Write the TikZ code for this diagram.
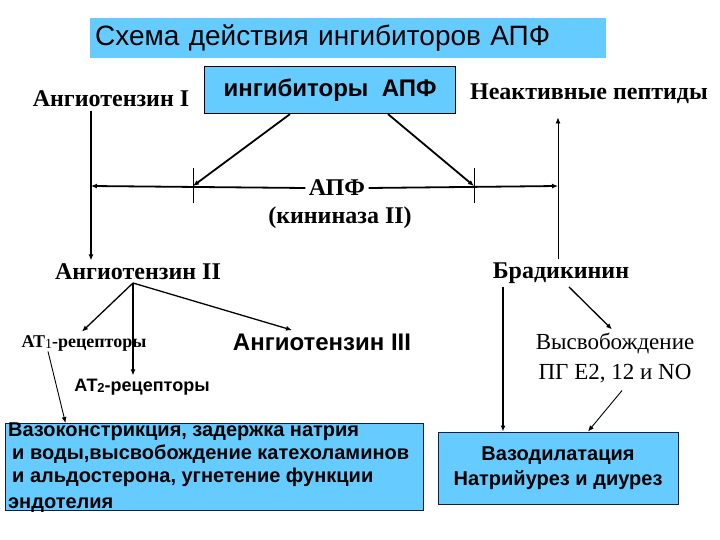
\documentclass[tikz,border=0pt]{standalone}
\usepackage{fontspec}
\setmainfont{Liberation Serif}
\setsansfont{Liberation Sans}
\usetikzlibrary{arrows.meta}

\definecolor{apfblue}{RGB}{102,204,255}
\definecolor{boxline}{RGB}{20,30,60}

\begin{document}
\begin{tikzpicture}[x=1pt,y=-1pt,
    >={Latex[length=6pt,width=5pt]},
    serifbold/.style={font=\bfseries\fontsize{24}{27}\selectfont},
    heavy/.style={line width=1.8pt},
    medium/.style={line width=1.3pt},
    light/.style={line width=0.9pt},
    bluebox/.style={draw=boxline, fill=apfblue, line width=1pt}]
  \useasboundingbox (0,0) rectangle (720,540);

  % header
  \node (title) [fill=apfblue, anchor=north west, minimum height=40pt, text width=506pt, inner xsep=5pt, align=left, font=\sffamily\fontsize{28}{32}\selectfont] at (90,18) {Схема действия ингибиторов АПФ};
  \node (inhib) [draw, fill=apfblue, line width=1.2pt, minimum width=251pt, minimum height=47pt, font=\sffamily\bfseries\fontsize{24}{27}\selectfont] at (330,90) {ингибиторы\ \ АПФ};

  % substances
  \node (angI) [serifbold] at (111,99) {Ангиотензин I};
  \node (inactive) [serifbold] at (589,94) {Неактивные пептиды};
  \node (apf) [serifbold] at (337,188) {АПФ};
  \node (kininase) [serifbold] at (340,218) {(кининаза II)};
  \node (angII) [serifbold] at (138,272) {Ангиотензин II};
  \node (brady) [serifbold] at (561,273) {Брадикинин};
  \node (at1) [font=\bfseries\fontsize{18}{20}\selectfont] at (84,343) {АТ\raisebox{-1pt}{\mdseries\fontsize{14}{14}\selectfont 1}-рецепторы};
  \node (at2) [font=\sffamily\bfseries\fontsize{18}{20}\selectfont] at (142,387) {АТ\raisebox{-1pt}{\fontsize{13}{13}\selectfont 2}-рецепторы};
  \node (angIII) [font=\sffamily\bfseries\fontsize{24}{27}\selectfont] at (322,342) {Ангиотензин III};
  \node (release) [align=center, font=\fontsize{23}{30}\selectfont] at (615,358) {Высвобождение\\ПГ Е2, 12 и NO};

  % effects
  \node (vaso) [bluebox, anchor=north west, minimum width=418pt, minimum height=87pt] at (5,423) {};
  \node (vasotext) [anchor=north west, inner sep=0pt, align=left, font=\sffamily\bfseries\fontsize{20}{23}\selectfont] at (8,423) {Вазоконстрикция, задержка натрия\\\hspace*{4pt}и воды,высвобождение катехоламинов\\\hspace*{4pt}и альдостерона, угнетение функции\\[3pt]эндотелия};
  \node (vasodil) [bluebox, minimum width=240pt, minimum height=72pt, align=center, font=\sffamily\bfseries\fontsize{20}{25}\selectfont] at (558,468) {Вазодилатация\\Натрийурез и диурез};

  \coordinate (left) at (91,186);
  \coordinate (right) at (558,186);
  \coordinate (tickL) at (193,186);
  \coordinate (tickR) at (474,186);
  \coordinate (fan) at (133,283);

  % ACE line
  \draw[heavy,->] (angI.south -| left) -- (angII.north -| left);
  \draw[heavy,<-] (left) -- (apf.west);
  \draw[heavy,->] (apf.east) -- (right);
  \draw[light] (tickL) ++(0,-18) -- ++(0,35);
  \draw[light] (tickR) ++(0,-18) -- ++(0,35);
  \draw[heavy,->] ([xshift=-40pt]inhib.south) -- (tickL);
  \draw[heavy,->] ([xshift=58pt]inhib.south) -- (tickR);
  \draw[light,->,shorten >=10pt] (right |- brady.north) -- (right |- inactive.south);

  % angiotensin II branch
  \draw[medium,->] (fan) -- ([xshift=-2pt]at1.north);
  \draw[medium,->] (fan) -- (fan |- at2.north);
  \draw[medium,->] (fan) -- ([xshift=-30pt]angIII.north);
  \draw[light,->] ([xshift=-36pt,yshift=3pt]at1.south) -- ([xshift=-149pt]vaso.north);

  % bradykinin branch
  \draw[medium,->] ([xshift=8pt]brady.south) -- ([xshift=-3pt]release.north);
  \draw[medium,->] ([xshift=-58pt]brady.south) -- ([xshift=-58pt]brady.south |- vasodil.north);
  \draw[light,->] ([xshift=7pt,yshift=-4pt]release.south) -- ([xshift=30pt]vasodil.north);
\end{tikzpicture}
\end{document}
